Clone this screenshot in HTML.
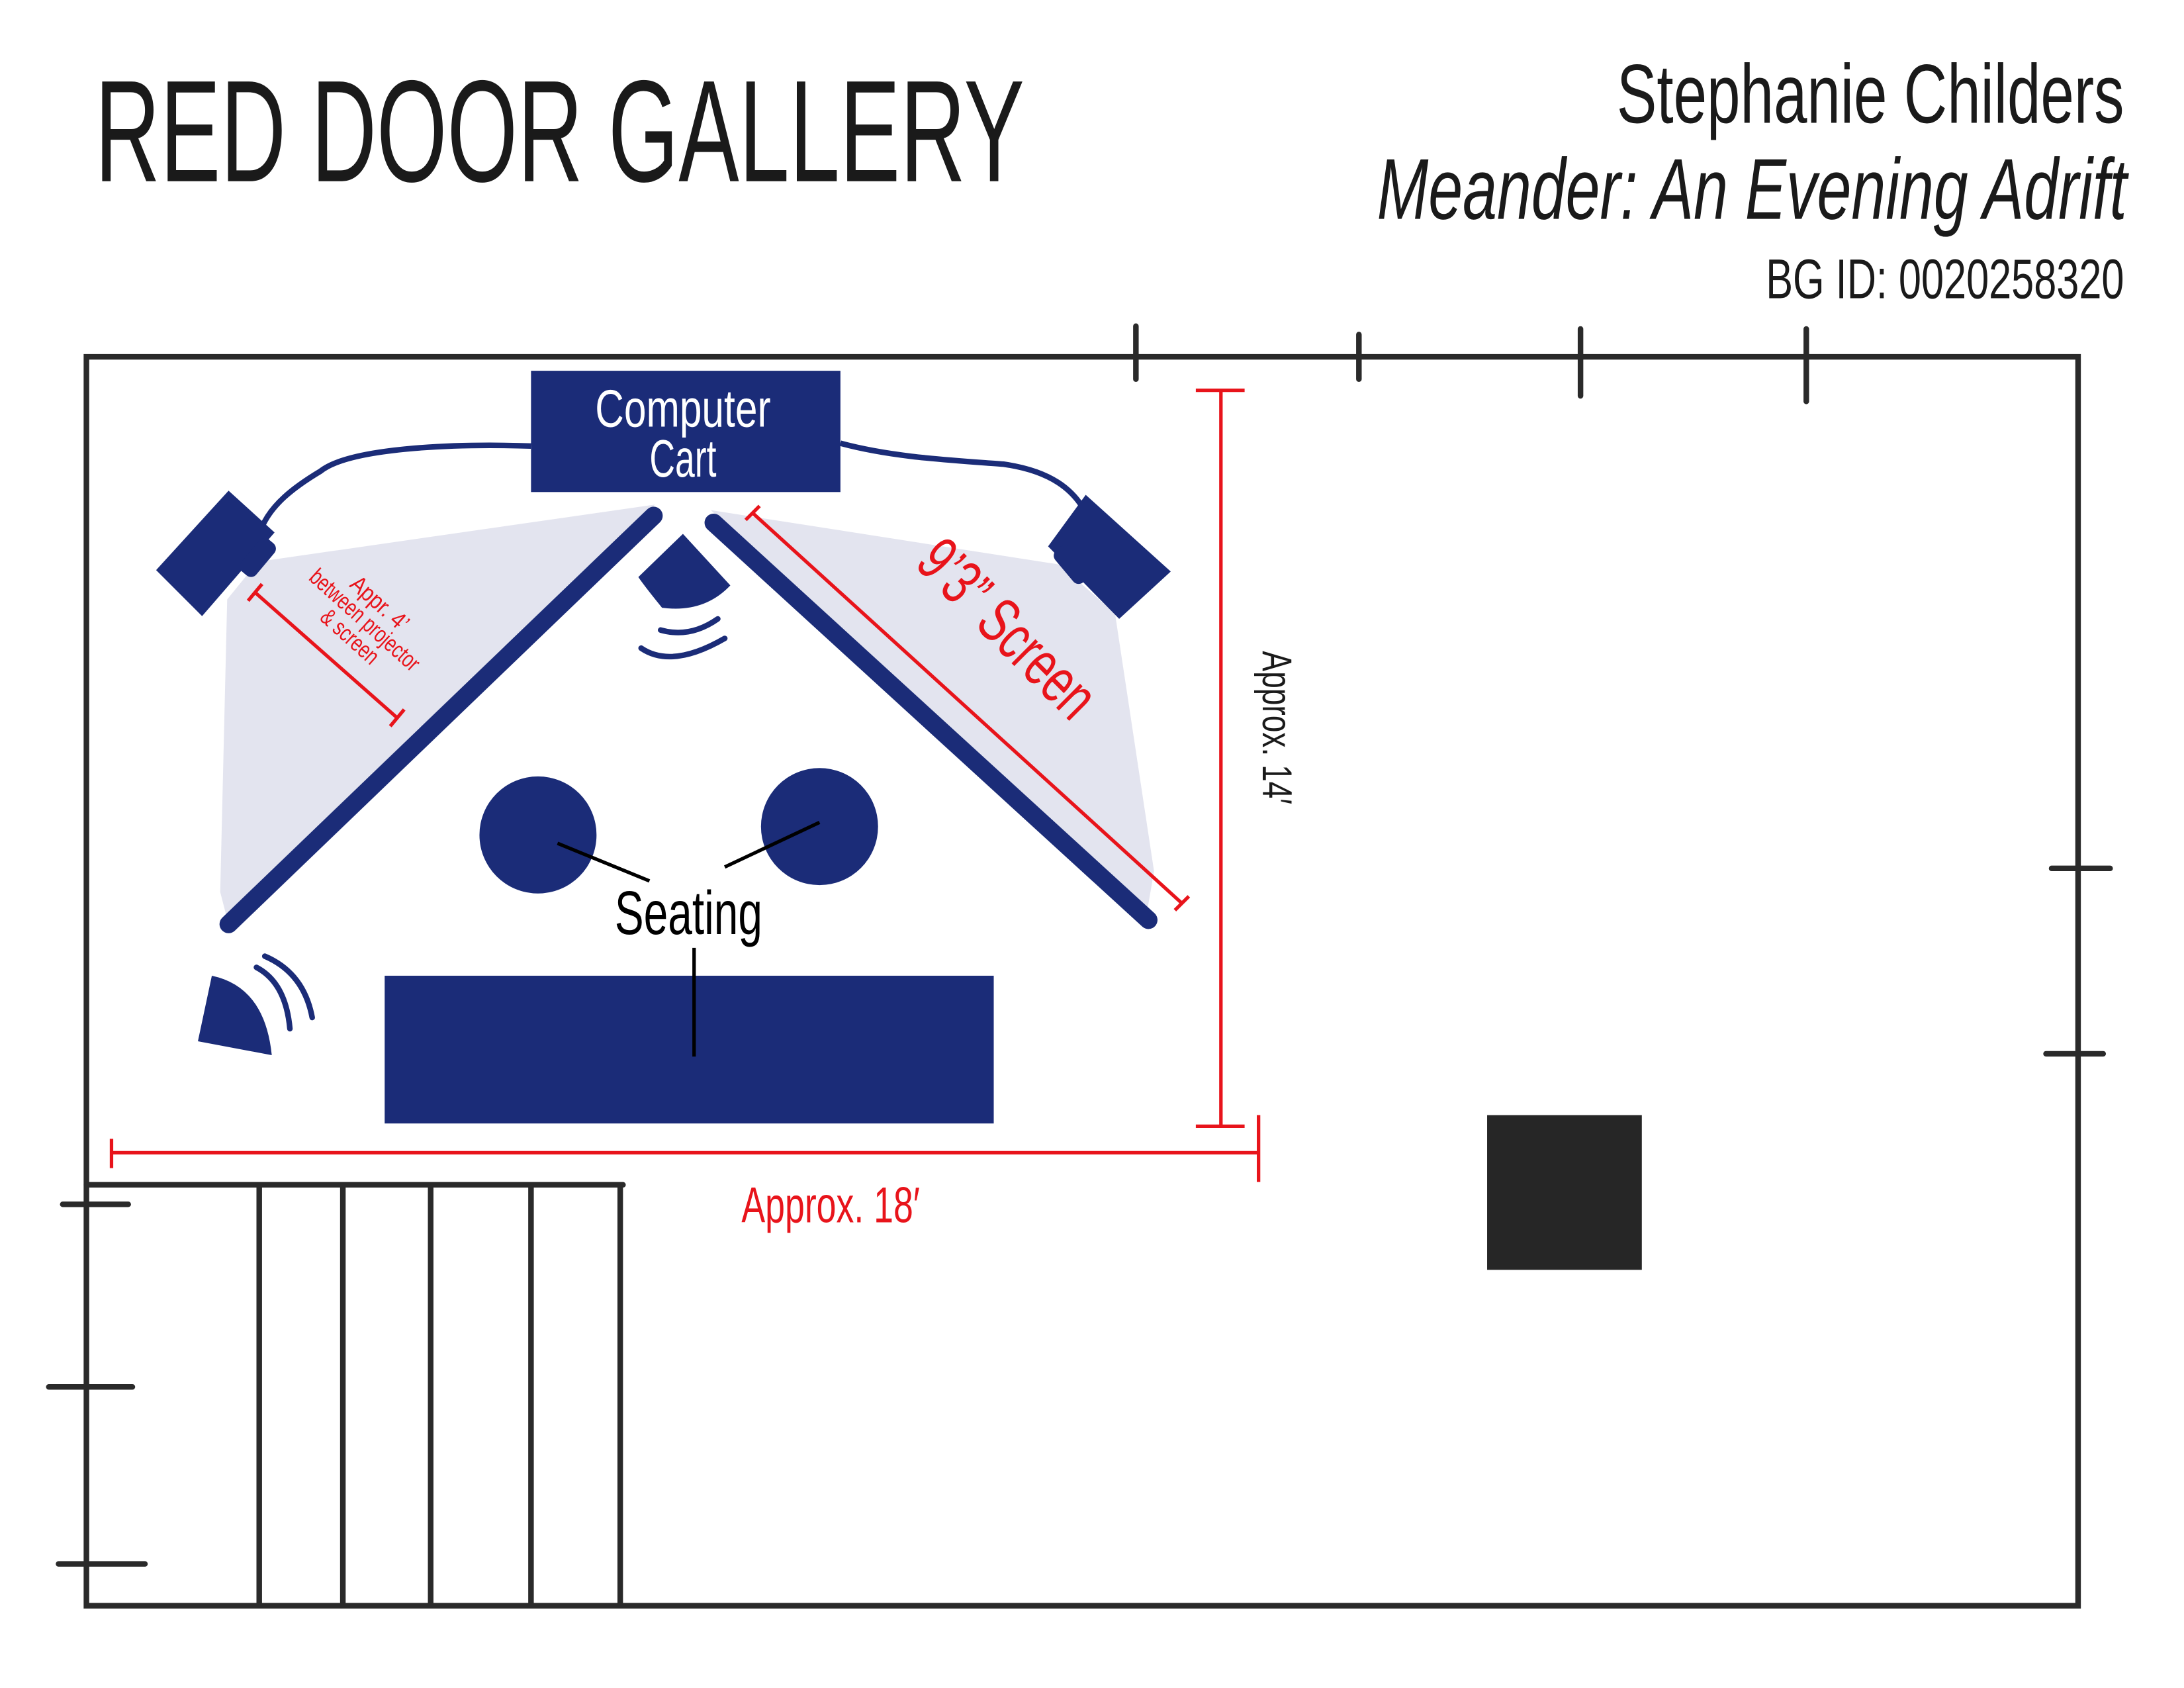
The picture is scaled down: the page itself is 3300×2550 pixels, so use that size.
<!DOCTYPE html>
<html><head><meta charset="utf-8"><style>
html,body{margin:0;padding:0;background:#fff;}
svg{display:block;}
text{font-family:"Liberation Sans Narrow","Liberation Sans",sans-serif;}
</style></head><body>
<svg width="3300" height="2550" viewBox="0 0 1567 1211" preserveAspectRatio="none" xmlns="http://www.w3.org/2000/svg">
<rect width="1567" height="1211" fill="#fff"/>
<!-- header -->
<text x="68" y="130" font-size="104" fill="#1a1a1a" textLength="667" lengthAdjust="spacingAndGlyphs">RED DOOR GALLERY</text>
<text x="1160" y="88" font-size="60" fill="#1a1a1a" textLength="364" lengthAdjust="spacingAndGlyphs">Stephanie Childers</text>
<text x="988" y="157" font-size="62" font-style="italic" fill="#1a1a1a" textLength="538" lengthAdjust="spacingAndGlyphs">Meander: An Evening Adrift</text>
<text x="1267" y="214" font-size="40" fill="#1a1a1a" textLength="257" lengthAdjust="spacingAndGlyphs">BG ID: 0020258320</text>

<!-- room -->
<g stroke="#2a2a2a" stroke-width="4" fill="none" stroke-linecap="round">
<path d="M62,256 L1491,256 L1491,1152 L62,1152 Z"/>
<path d="M815,234 V272 M975,240 V272 M1134,236 V284 M1296,236 V288"/>
<path d="M1472,623 H1514 M1468,756 H1509"/>
<path d="M45,864 H92 M35,995 H95 M42,1122 H104"/>
<path d="M62,850 H447 M186,850 V1152 M246,850 V1152 M309,850 V1152 M381,850 V1152 M445,850 V1152"/>
</g>
<rect x="1067" y="800" width="111" height="111" fill="#262626"/>

<!-- light cones -->
<polygon points="185,403 470,362 165,667 158,640 163,430" fill="#e3e4ef"/>
<polygon points="510,366 760,405 800,440 828,625 822,660" fill="#e3e4ef"/>

<!-- cables -->
<g stroke="#1b2c78" stroke-width="4" fill="none">
<path d="M381,320 C320,318 250,322 230,338 C210,350 195,362 188,378"/>
<path d="M603,318 C640,328 680,330 720,333 C755,338 770,352 778,366"/>
</g>
<!-- cart -->
<rect x="381" y="266" width="222" height="87" fill="#1b2c78"/>
<text x="490" y="306" font-size="38" fill="#fff" text-anchor="middle" textLength="126" lengthAdjust="spacingAndGlyphs">Computer</text>
<text x="490" y="342" font-size="38" fill="#fff" text-anchor="middle" textLength="48" lengthAdjust="spacingAndGlyphs">Cart</text>

<!-- projectors -->
<polygon points="164,352 197,382 145,442 112,409" fill="#1b2c78"/>
<rect x="178" y="385" width="14" height="30" rx="5" transform="rotate(40 185 400)" fill="#1b2c78"/>
<polygon points="779,355 840,410 803,444 752,392" fill="#1b2c78"/>
<rect x="762" y="390" width="14" height="30" rx="5" transform="rotate(-40 769 405)" fill="#1b2c78"/>

<!-- screens -->
<g stroke="#1b2c78" stroke-width="13" stroke-linecap="round">
<line x1="469" y1="370" x2="164" y2="663"/>
<line x1="512" y1="375" x2="824" y2="660"/>
</g>

<!-- center speaker -->
<path d="M490,383 L524,420 Q505,440 475,436 Q462,420 458,414 Z" fill="#1b2c78"/>
<g stroke="#1b2c78" stroke-width="4" fill="none" stroke-linecap="round">
<path d="M474,452 Q495,458 515,444"/>
<path d="M460,465 Q482,480 520,458"/>
<path d="M190,686 Q218,698 224,730"/>
<path d="M184,694 Q205,705 208,738"/>
</g>
<!-- bottom-left speaker -->
<path d="M152,700 Q190,708 195,757 L142,747 Z" fill="#1b2c78"/>

<!-- seating -->
<circle cx="386" cy="599" r="42" fill="#1b2c78"/>
<circle cx="588" cy="593" r="42" fill="#1b2c78"/>
<rect x="276" y="700" width="437" height="106" fill="#1b2c78"/>
<g stroke="#000" stroke-width="2.5">
<line x1="400" y1="605" x2="466" y2="632"/>
<line x1="520" y1="622" x2="588" y2="590"/>
<line x1="498" y1="680" x2="498" y2="758"/>
</g>
<text x="494" y="670" font-size="44" fill="#000" text-anchor="middle" textLength="106" lengthAdjust="spacingAndGlyphs">Seating</text>

<!-- red dimensions -->
<g stroke="#e8141b" stroke-width="2.5" fill="none">
<path d="M876,280 V808 M858,280 H893 M858,808 H893"/>
<path d="M80,827 H903 M80,817 V838 M903,800 V848"/>
<path d="M540,368 L848,648 M535,373 L545,363 M843,653 L853,643"/>
<path d="M183,425 L285,515 M178,431 L188,419 M280,521 L290,509"/>
</g>
<text x="532" y="877" font-size="36" fill="#e8141b" textLength="128" lengthAdjust="spacingAndGlyphs">Approx. 18′</text>
<text transform="translate(906,522) rotate(90)" font-size="30" fill="#1a1a1a" text-anchor="middle" textLength="110" lengthAdjust="spacingAndGlyphs">Approx. 14′</text>
<text transform="translate(712,462) rotate(45)" font-size="46" fill="#e8141b" text-anchor="middle" textLength="160" lengthAdjust="spacingAndGlyphs">9’3” Screen</text>
<g transform="translate(258,449) rotate(42)" fill="#e8141b" font-size="17" text-anchor="middle">
<text x="0" y="-16" textLength="50" lengthAdjust="spacingAndGlyphs">Appr. 4’</text>
<text x="0" y="0" textLength="100" lengthAdjust="spacingAndGlyphs">between projector</text>
<text x="0" y="16" textLength="50" lengthAdjust="spacingAndGlyphs">&amp; screen</text>
</g>
</svg>
</body></html>
